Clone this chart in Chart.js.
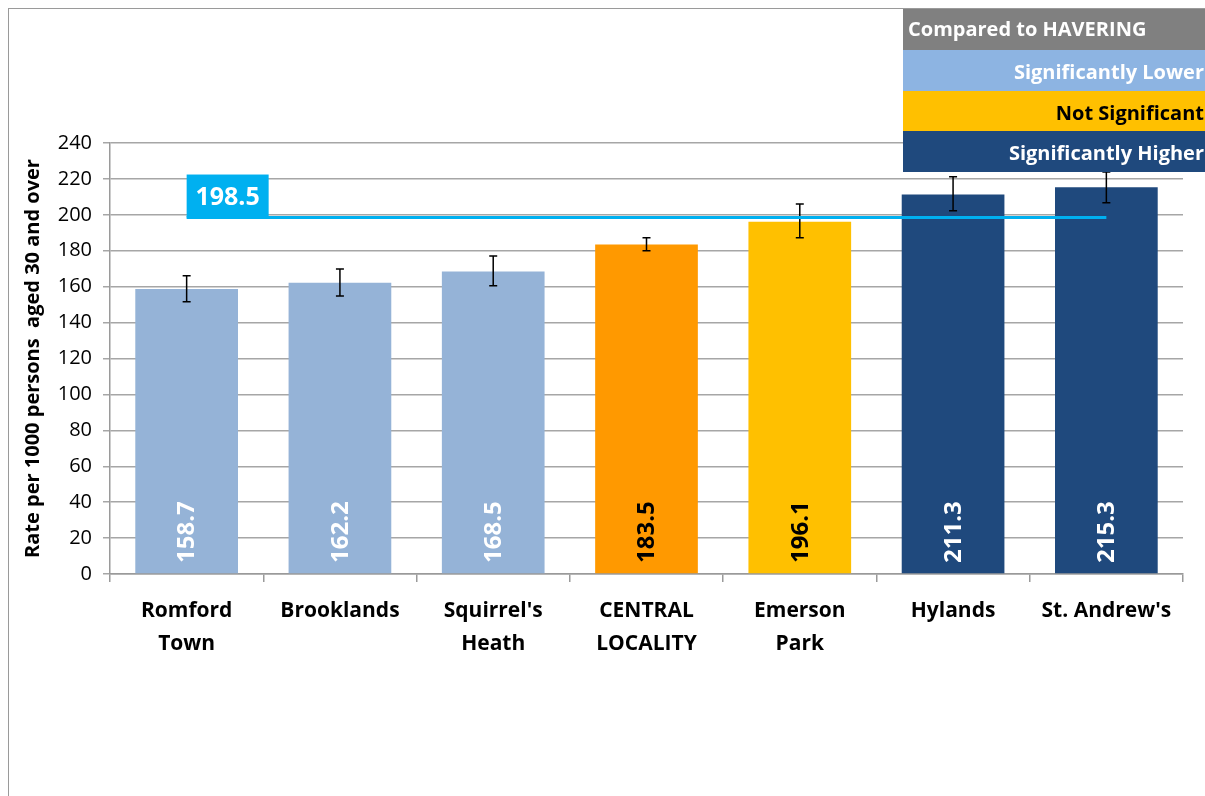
<!DOCTYPE html>
<html>
<head>
<meta charset="utf-8">
<script src="https://cdn.jsdelivr.net/npm/chart.js@4.4.1/dist/chart.umd.min.js"></script>
<style>
  html, body { margin: 0; padding: 0; background: #fff; }
  #wrap { width: 1205px; height: 796px; position: relative; }
</style>
</head>
<body>
<div id="wrap"><canvas id="rateChart"></canvas></div>
<script>
// 資料
const wards = [['Romford', 'Town'], 'Brooklands', ["Squirrel's", 'Heath'], ['CENTRAL', 'LOCALITY'], ['Emerson', 'Park'], 'Hylands', "St. Andrew's"];
const rates = [158.7, 162.2, 168.5, 183.5, 196.1, 211.3, 215.3];
const lowerCI = [151.6, 154.8, 160.5, 180.0, 187.3, 202.3, 206.7];
const upperCI = [166.1, 169.8, 177.1, 187.3, 206.0, 221.2, 223.9];
const barColors = ['#95B3D7', '#95B3D7', '#95B3D7', '#FF9900', '#FFC000', '#1F497D', '#1F497D'];
const labelColors = ['#fff', '#fff', '#fff', '#000', '#000', '#fff', '#fff'];
const haveringRate = 198.5;
const yTicks = [0, 20, 40, 60, 80, 100, 120, 140, 160, 180, 200, 220, 240];
const legendLabels = ['Compared to HAVERING', 'Significantly Lower', 'Not Significant', 'Significantly Higher'];
const legendColors = ['#808080', '#8DB4E2', '#FFC000', '#1F497D'];
const legendText = ['#fff', '#fff', '#000', '#fff'];

const FONT = '"Open Sans", "Noto Sans", sans-serif';

// 外框、誤差線、參考線、數值、圖例
const extras = {
  id: 'extras',
  beforeDraw(chart) {
    const ctx = chart.ctx;
    ctx.save();
    ctx.strokeStyle = '#9a9a9a';
    ctx.lineWidth = 1;
    ctx.strokeRect(8.5, 8.5, 1400, 1000);
    ctx.restore();
  },
  afterDatasetsDraw(chart) {
    const ctx = chart.ctx;
    const x = chart.scales.x, y = chart.scales.y;
    ctx.save();

    // 數值標籤
    rates.forEach((v, i) => {
      const px = x.getPixelForValue(i);
      ctx.save();
      ctx.translate(px, 563);
      ctx.rotate(-Math.PI / 2);
      ctx.font = 'bold 24px ' + FONT;
      ctx.fillStyle = labelColors[i];
      ctx.textAlign = 'left';
      ctx.textBaseline = 'middle';
      ctx.fillText(v.toFixed(1), 0, 1);
      ctx.restore();
    });

    // 誤差線
    ctx.strokeStyle = '#000';
    ctx.lineWidth = 1.5;
    lowerCI.forEach((lo, i) => {
      const px = x.getPixelForValue(i);
      const y1 = y.getPixelForValue(lo), y2 = y.getPixelForValue(upperCI[i]);
      ctx.beginPath();
      ctx.moveTo(px, y1); ctx.lineTo(px, y2);
      ctx.moveTo(px - 4, y1); ctx.lineTo(px + 4, y1);
      ctx.moveTo(px - 4, y2); ctx.lineTo(px + 4, y2);
      ctx.stroke();
    });

    // HAVERING 參考線
    const ly = y.getPixelForValue(haveringRate);
    const x0 = x.getPixelForValue(0), x1 = x.getPixelForValue(rates.length - 1);
    ctx.strokeStyle = '#00B0F0';
    ctx.lineWidth = 3;
    ctx.beginPath();
    ctx.moveTo(x0, ly); ctx.lineTo(x1, ly);
    ctx.stroke();
    ctx.fillStyle = '#00B0F0';
    ctx.fillRect(x0, ly - 43, 82, 43);
    ctx.fillStyle = '#fff';
    ctx.font = 'bold 25px ' + FONT;
    ctx.textAlign = 'center';
    ctx.textBaseline = 'middle';
    ctx.fillText(haveringRate.toFixed(1), x0 + 41, ly - 20);

    // 圖例
    const top = [9, 50, 91, 131, 172];
    legendLabels.forEach((t, i) => {
      ctx.fillStyle = legendColors[i];
      ctx.fillRect(903, top[i], 310, top[i + 1] - top[i]);
      ctx.fillStyle = legendText[i];
      ctx.font = 'bold 20px ' + FONT;
      ctx.textBaseline = 'middle';
      const cy = (top[i] + top[i + 1]) / 2 + (i === 0 ? 1 : 3);
      if (i === 0) { ctx.textAlign = 'left'; ctx.fillText(t, 908, cy); }
      else { ctx.textAlign = 'right'; ctx.fillText(t, 1204, cy); }
    });
    ctx.restore();
  }
};

const chart = new Chart(document.getElementById('rateChart'), {
  type: 'bar',
  data: {
    labels: wards,
    datasets: [{
      data: rates,
      backgroundColor: barColors,
      borderWidth: 0,
      categoryPercentage: 1,
      barPercentage: 0.67
    }]
  },
  options: {
    responsive: true,
    maintainAspectRatio: false,
    animation: false,
    events: [],
    layout: { padding: { left: 0, top: 143, right: 22, bottom: 0 } },
    plugins: { legend: { display: false }, tooltip: { enabled: false } },
    scales: {
      x: {
        afterFit(s) { s.height = 222; },
        grid: { offset: true, drawOnChartArea: false, drawTicks: true, tickLength: 8, color: '#9a9a9a', lineWidth: 1.5 },
        border: { color: '#9a9a9a', width: 1.5 },
        ticks: { color: '#000', font: { family: FONT, size: 21, weight: 'bold', lineHeight: 1.55 }, padding: 13, maxRotation: 0, autoSkip: false }
      },
      y: {
        min: 0, max: 240,
        afterFit(s) { s.width = 110; },
        afterBuildTicks(s) { s.ticks = yTicks.map(v => ({ value: v })); },
        grid: { color: '#a6a6a6', lineWidth: 1.5, tickLength: 7 },
        border: { color: '#9a9a9a', width: 1.5 },
        ticks: { color: '#000', font: { family: FONT, size: 20 }, padding: 11 },
        title: {
          display: true,
          text: 'Rate per 1000 persons  aged 30 and over',
          color: '#000',
          font: { family: FONT, size: 20, weight: 'bold' },
          padding: { top: 21, bottom: 0 }
        }
      }
    }
  },
  plugins: [extras]
});
</script>
</body>
</html>
